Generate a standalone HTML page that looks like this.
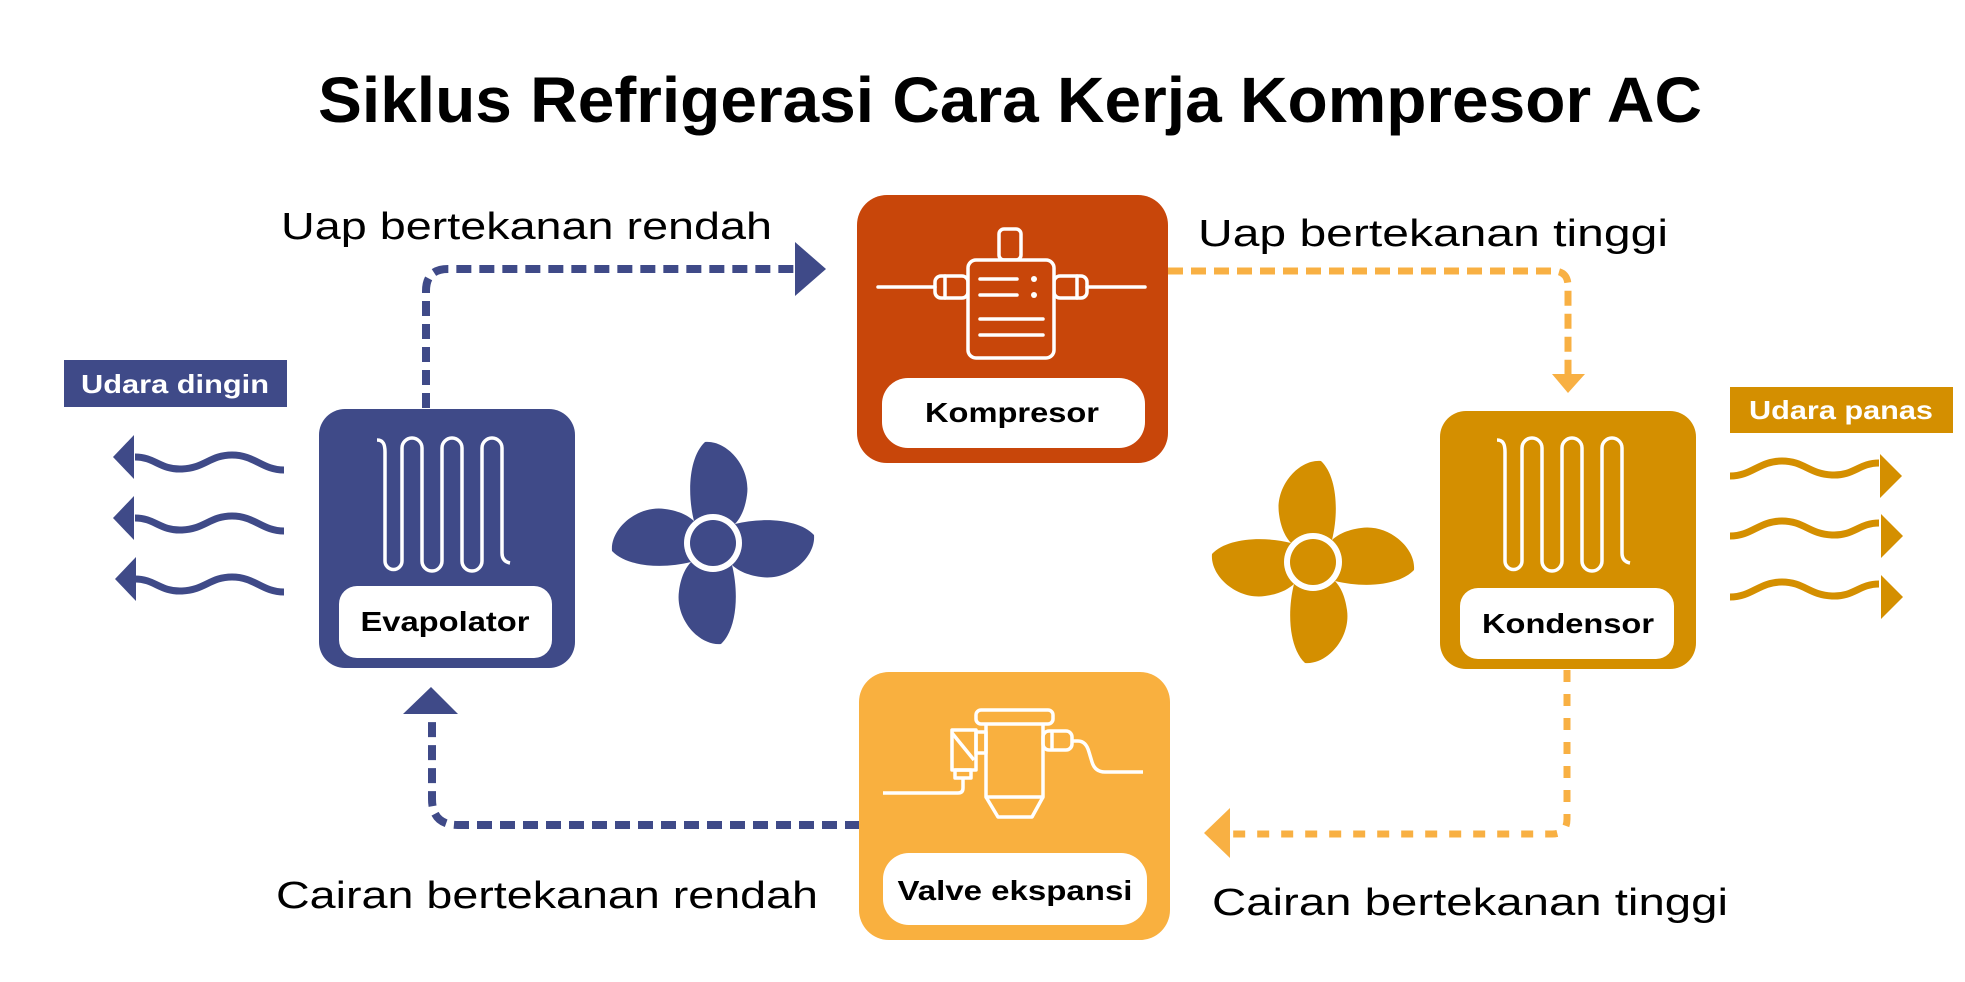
<!DOCTYPE html>
<html><head><meta charset="utf-8"><style>
html,body{margin:0;padding:0;background:#fff;}
svg{display:block;}
text{font-family:"Liberation Sans",sans-serif;}
</style></head><body>
<svg width="1965" height="982" viewBox="0 0 1965 982" xmlns="http://www.w3.org/2000/svg">
<defs>
<path id="blade" d="M -19 -22 C -26 -50 -24 -86 -8 -101 C 14 -103 38 -76 34 -48 C 32 -33 27 -24 21 -18 Z"/>
<path id="coil" d="M 0 2 C 6 2 8 6 8 14 L 8 123 A 8.5 8.5 0 0 0 25 123 L 25 10 A 10 10 0 0 1 45 10 L 45 123 A 10 10 0 0 0 65 123 L 65 10 A 10 10 0 0 1 85 10 L 85 123 A 10 10 0 0 0 105 123 L 105 10 A 10 10 0 0 1 125 10 L 125 115 C 125 121 128 124 133 125" fill="none"/>
<path id="wave" d="M 135 457 C 155 457 160 470 182 469 C 205 468 210 455 232 455 C 255 455 262 470 284 470" fill="none"/>
</defs>

<text x="318" y="122" font-size="64" font-weight="bold" textLength="1384" lengthAdjust="spacingAndGlyphs">Siklus Refrigerasi Cara Kerja Kompresor AC</text>

<text x="281" y="239" font-size="38" textLength="491" lengthAdjust="spacingAndGlyphs">Uap bertekanan rendah</text>
<text x="1198" y="246" font-size="38" textLength="470" lengthAdjust="spacingAndGlyphs">Uap bertekanan tinggi</text>
<text x="276" y="908" font-size="38" textLength="542" lengthAdjust="spacingAndGlyphs">Cairan bertekanan rendah</text>
<text x="1212" y="915" font-size="38" textLength="516" lengthAdjust="spacingAndGlyphs">Cairan bertekanan tinggi</text>

<path d="M 426 408 L 426 291 Q 426 269 448 269 L 795 269" stroke="#3f4a88" stroke-width="8" fill="none" stroke-dasharray="15 8"/>
<polygon points="795,242 826,269 795,296" fill="#3f4a88"/>
<path d="M 1168 271 L 1553 271 Q 1568 271 1568 286 L 1568 374" stroke="#f8b043" stroke-width="7" fill="none" stroke-dasharray="15 8"/>
<polygon points="1552,374 1585,374 1568,393" fill="#f8b043"/>
<path d="M 1567 670 L 1567 819 Q 1567 834 1552 834 L 1233 834" stroke="#f8b043" stroke-width="7" fill="none" stroke-dasharray="12 12"/>
<polygon points="1230,808 1204,833 1230,858" fill="#f8b043"/>
<path d="M 860 825 L 458 825 Q 432 825 432 799 L 432 716" stroke="#3f4a88" stroke-width="8" fill="none" stroke-dasharray="15 8"/>
<polygon points="403,714 431,687 458,714" fill="#3f4a88"/>

<rect x="64" y="360" width="223" height="47" fill="#3f4a88"/>
<text x="175" y="393" font-size="26" font-weight="bold" fill="#fff" text-anchor="middle" textLength="188" lengthAdjust="spacingAndGlyphs">Udara dingin</text>
<rect x="1730" y="387" width="223" height="46" fill="#d48f00"/>
<text x="1841" y="419" font-size="26" font-weight="bold" fill="#fff" text-anchor="middle" textLength="184" lengthAdjust="spacingAndGlyphs">Udara panas</text>

<g stroke="#3f4a88" stroke-width="7" fill="none">
<use href="#wave"/><use href="#wave" y="61"/><use href="#wave" y="122"/>
</g>
<g fill="#3f4a88">
<polygon points="113,457 134,435 134,479"/>
<polygon points="113,518 134,496 134,540"/>
<polygon points="115,579 136,557 136,601"/>
</g>
<g stroke="#d48f00" stroke-width="7" fill="none" transform="translate(1730,0) scale(-1,1) translate(-284,0)">
<use href="#wave" y="6"/><use href="#wave" y="66"/><use href="#wave" y="127"/>
</g>
<g fill="#d48f00">
<polygon points="1902,476 1880,454 1880,498"/>
<polygon points="1903,536 1881,514 1881,558"/>
<polygon points="1903,597 1881,575 1881,619"/>
</g>

<rect x="319" y="409" width="256" height="259" rx="26" fill="#3f4a88"/>
<use href="#coil" x="377" y="438" stroke="#fff" stroke-width="3.5"/>
<rect x="339" y="586" width="213" height="72" rx="18" fill="#fff"/>
<text x="445" y="631" font-size="28" font-weight="bold" text-anchor="middle" textLength="169" lengthAdjust="spacingAndGlyphs">Evapolator</text>

<rect x="1440" y="411" width="256" height="258" rx="26" fill="#d48f00"/>
<use href="#coil" x="1497" y="438" stroke="#fff" stroke-width="3.5"/>
<rect x="1460" y="588" width="214" height="71" rx="18" fill="#fff"/>
<text x="1568" y="633" font-size="28" font-weight="bold" text-anchor="middle" textLength="172" lengthAdjust="spacingAndGlyphs">Kondensor</text>

<g transform="translate(713,543)" fill="#3f4a88">
<use href="#blade"/><use href="#blade" transform="rotate(90)"/><use href="#blade" transform="rotate(180)"/><use href="#blade" transform="rotate(270)"/>
<circle r="29" fill="#fff"/><circle r="23"/>
</g>
<g transform="translate(1313,562) scale(-1,1)" fill="#d48f00">
<use href="#blade"/><use href="#blade" transform="rotate(90)"/><use href="#blade" transform="rotate(180)"/><use href="#blade" transform="rotate(270)"/>
<circle r="29" fill="#fff"/><circle r="23"/>
</g>

<rect x="857" y="195" width="311" height="268" rx="30" fill="#c8460a"/>
<g stroke="#fff" stroke-width="3.5" fill="none" stroke-linecap="round">
<line x1="878" y1="287" x2="935" y2="287"/>
<line x1="1087" y1="287" x2="1145" y2="287"/>
<rect x="935" y="276" width="33" height="22" rx="6"/>
<rect x="1054" y="276" width="33" height="22" rx="6"/>
<line x1="945" y1="276" x2="945" y2="298"/>
<line x1="1077" y1="276" x2="1077" y2="298"/>
<rect x="999" y="229" width="22" height="31" rx="5"/>
<rect x="968" y="260" width="86" height="98" rx="8" fill="#c8460a"/>
<line x1="980" y1="279" x2="1017" y2="279"/>
<line x1="980" y1="295" x2="1017" y2="295"/>
<line x1="980" y1="319" x2="1043" y2="319"/>
<line x1="980" y1="335" x2="1043" y2="335"/>
</g>
<circle cx="1034" cy="279" r="3" fill="#fff"/><circle cx="1034" cy="295" r="3" fill="#fff"/>
<rect x="882" y="378" width="263" height="70" rx="26" fill="#fff"/>
<text x="1012" y="422" font-size="28" font-weight="bold" text-anchor="middle" textLength="174" lengthAdjust="spacingAndGlyphs">Kompresor</text>

<rect x="859" y="672" width="311" height="268" rx="30" fill="#f9b03f"/>
<g stroke="#fff" stroke-width="3.5" fill="none" stroke-linejoin="round">
<rect x="976" y="710" width="77" height="14" rx="5"/>
<path d="M 986 724 L 986 797 L 1043 797 L 1043 724"/>
<path d="M 986 797 L 998 817 L 1032 817 L 1043 797"/>
<rect x="976" y="732" width="10" height="21"/>
<rect x="952" y="730" width="24" height="40"/>
<line x1="952" y1="733" x2="974" y2="760"/>
<rect x="955" y="770" width="16" height="8"/>
<path d="M 883 793 L 958 793 Q 963 793 963 788 L 963 778"/>
<rect x="1043" y="731" width="29" height="19" rx="6"/>
<line x1="1052" y1="731" x2="1052" y2="750"/>
<path d="M 1072 741 L 1078 741 Q 1086 741 1089 752 L 1092 762 Q 1095 772 1105 772 L 1143 772"/>
</g>
<rect x="883" y="853" width="264" height="72" rx="26" fill="#fff"/>
<text x="1015" y="900" font-size="28" font-weight="bold" text-anchor="middle" textLength="235" lengthAdjust="spacingAndGlyphs">Valve ekspansi</text>
</svg>
</body></html>
